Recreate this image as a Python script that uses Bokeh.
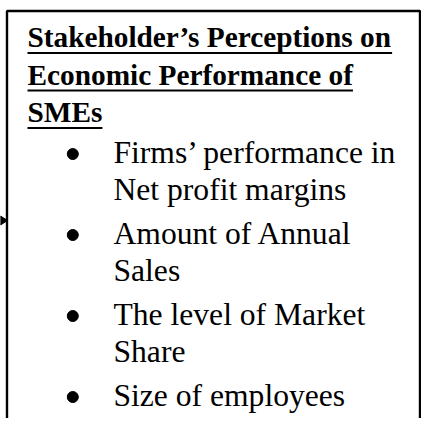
from bokeh.plotting import figure
from bokeh.models import Range1d
from bokeh.core.properties import value
from bokeh.embed import file_html
from bokeh.resources import INLINE

# ---- content ----
title_lines = ["Stakeholder\u2019s Perceptions on", "Economic Performance of", "SMEs"]
items = [
    ["Firms\u2019 performance in", "Net profit margins"],
    ["Amount of Annual", "Sales"],
    ["The level of Market", "Share"],
    ["Size of employees"],
]

# Approximate Times Bold advance widths (per 1000 em) for underline lengths
TB = {"S": 556, "t": 333, "a": 500, "k": 556, "e": 444, "h": 556, "o": 500, "l": 278,
      "d": 556, "r": 444, "\u2019": 333, "s": 389, " ": 250, "P": 611, "c": 444, "p": 556,
      "i": 278, "n": 556, "E": 667, "m": 833, "f": 333, "M": 944}

W, H = 421, 418
p = figure(width=W, height=H, output_backend="svg", toolbar_location=None,
           x_range=Range1d(0, W), y_range=Range1d(H, 0),
           x_axis_location=None, y_axis_location=None, min_border=0)
p.grid.visible = False
p.outline_line_color = None
p.background_fill_color = "white"
p.border_fill_color = "white"

# box border (open at the bottom)
p.line(x=[6.5, 6.5, 419.5, 419.5], y=[H + 5, 10.5, 10.5, H + 5], line_color="black", line_width=2.4)

# small incoming arrow head at the left
p.patch(x=[0, 0, 7], y=[215.5, 224.5, 220], fill_color="black", line_color="black")

BASE_SHIFT = 11.5  # renderer places alphabetic baseline lower than requested

# title
title_size = 29.3
tx = 27
t_base = [48 + i * 37.5 for i in range(len(title_lines))]
p.text(x=[tx] * len(title_lines), y=[b - BASE_SHIFT for b in t_base], text=title_lines,
       text_font=value("Liberation Serif"), text_font_style="bold",
       text_font_size=f"{title_size}px", text_color="black",
       text_align="left", text_baseline="alphabetic")
ux0, ux1, uy = [], [], []
for line, b in zip(title_lines, t_base):
    w = sum(TB.get(c, 500) for c in line) / 1000 * title_size
    ux0.append(tx); ux1.append(tx + w); uy.append(b + 4.5)
p.segment(x0=ux0, y0=uy, x1=ux1, y1=uy, line_color="black", line_width=2)

# bullet list
bx, txx = 72.3, 113
y = 163
line_h = 37.5
gap = 6
lx, ly, lt = [], [], []
dx, dy = [], []
for it in items:
    dx.append(bx); dy.append(y - 9.5)
    for s in it:
        lx.append(txx); ly.append(y - BASE_SHIFT); lt.append(s)
        y += line_h
    y += gap
p.scatter(x=dx, y=dy, marker="circle", size=11, fill_color="black", line_color="black")
p.text(x=lx, y=ly, text=lt, text_font=value("Liberation Serif"),
       text_font_size="31.6px", text_color="black",
       text_align="left", text_baseline="alphabetic")

open("out.html", "w").write(file_html(p, INLINE))
